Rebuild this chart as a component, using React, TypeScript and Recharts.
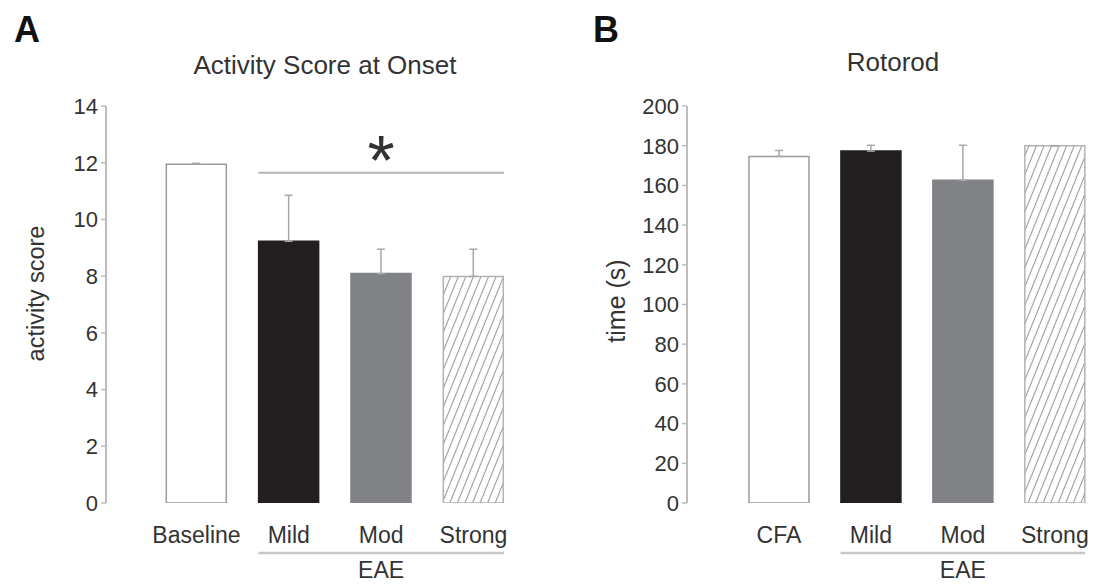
import { BarChart, Bar, XAxis, YAxis, Cell, ErrorBar, ReferenceLine } from 'recharts'

// Panel A - activity score at onset
const activityCategories = ['Baseline', 'Mild', 'Mod', 'Strong']
const activityValues = [11.95, 9.23, 8.09, 7.99]
const activitySem = [0.03, 1.62, 0.86, 0.96]
const activityTicks = [0, 2, 4, 6, 8, 10, 12, 14]
const activitySignificance = 11.65

// Panel B - rotorod
const rotorodCategories = ['CFA', 'Mild', 'Mod', 'Strong']
const rotorodValues = [174.6, 177.3, 162.6, 180]
const rotorodSem = [3.0, 2.9, 17.6, 0]
const rotorodTicks = [0, 20, 40, 60, 80, 100, 120, 140, 160, 180, 200]

const eaeGroup = ['Mild', 'Strong']

const FONT = '"Liberation Sans", Arial, Helvetica, sans-serif'
const AXIS = '#bdbdbd'
const TEXT = '#333333'
const BAR_HALF = 0.33 // half bar width, in category units

const buildRows = (values: number[], sem: number[]) =>
  values.map((v, i) => ({ pos: i, value: v, err: [0, sem[i]] }))

interface PanelProps {
  hatchId: string
  categories: string[]
  values: number[]
  sem: number[]
  yDomain: [number, number]
  yTicks: number[]
  xDomain: [number, number]
  yAxisWidth: number
  marginRight: number
  underlineY: number
  significanceY?: number
}

function Panel({
  hatchId,
  categories,
  values,
  sem,
  yDomain,
  yTicks,
  xDomain,
  yAxisWidth,
  marginRight,
  underlineY,
  significanceY
}: PanelProps) {
  const rows = buildRows(values, sem)
  const fills = ['#ffffff', '#231f20', '#808285', `url(#${hatchId})`]
  const strokes = ['#9a9a9a', '#231f20', '#808285', '#b3b3b3']
  const eaeStart = categories.indexOf(eaeGroup[0]) - BAR_HALF
  const eaeEnd = categories.indexOf(eaeGroup[1]) + BAR_HALF

  return (
    <BarChart
      width={548}
      height={585}
      data={rows}
      barSize={60}
      margin={{ top: 106, right: marginRight, bottom: 0, left: 0 }}
    >
      <defs>
        <pattern
          id={hatchId}
          patternUnits="userSpaceOnUse"
          width={7}
          height={7}
          patternTransform="rotate(22)"
        >
          <rect width={7} height={7} fill="#ffffff" />
          <line x1={3.5} y1={0} x2={3.5} y2={7} stroke="#9a9a9a" strokeWidth={1.1} />
        </pattern>
      </defs>
      <XAxis
        dataKey="pos"
        type="number"
        domain={xDomain}
        allowDataOverflow
        ticks={[0, 1, 2, 3]}
        interval={0}
        tickFormatter={(v) => categories[v]}
        axisLine={false}
        tickLine={false}
        tickSize={0}
        tickMargin={24}
        height={82}
        tick={{ fill: TEXT, fontSize: 23 }}
      />
      <YAxis
        domain={yDomain}
        allowDataOverflow
        ticks={yTicks}
        interval={0}
        width={yAxisWidth}
        stroke={AXIS}
        axisLine={{ stroke: AXIS, strokeWidth: 2 }}
        tickLine={{ stroke: AXIS, strokeWidth: 1.5 }}
        tickSize={5}
        tickMargin={3}
        tick={{ fill: TEXT, fontSize: 22 }}
      />
      <Bar dataKey="value" isAnimationActive={false}>
        {rows.map((r, i) => (
          <Cell key={r.pos} fill={fills[i]} stroke={strokes[i]} strokeWidth={1.5} />
        ))}
        <ErrorBar
          dataKey="err"
          width={4}
          stroke="#a8a8a8"
          strokeWidth={1.5}
          isAnimationActive={false}
        />
      </Bar>
      {significanceY !== undefined && (
        <ReferenceLine
          segment={[
            { x: eaeStart, y: significanceY },
            { x: eaeEnd, y: significanceY }
          ]}
          stroke="#b5b5b5"
          strokeWidth={2}
          ifOverflow="visible"
          label={{ value: '*', position: 'top', offset: -12, fill: '#333', fontSize: 70 }}
        />
      )}
      <ReferenceLine
        segment={[
          { x: eaeStart, y: underlineY },
          { x: eaeEnd, y: underlineY }
        ]}
        stroke="#c8c8c8"
        strokeWidth={2.5}
        ifOverflow="visible"
        label={{ value: 'EAE', position: 'bottom', offset: 9, fill: TEXT, fontSize: 23 }}
      />
    </BarChart>
  )
}

export default function App() {
  return (
    <div
      style={{
        position: 'absolute',
        left: 0,
        top: 0,
        width: 1096,
        height: 585,
        background: '#ffffff',
        fontFamily: FONT
      }}
    >
      <div style={{ position: 'absolute', left: 0, top: 0 }}>
        <Panel
          hatchId="hatchA"
          categories={activityCategories}
          values={activityValues}
          sem={activitySem}
          yDomain={[0, 14]}
          yTicks={activityTicks}
          xDomain={[-0.98, 3.45]}
          yAxisWidth={106}
          marginRight={33}
          underlineY={-1.76}
          significanceY={activitySignificance}
        />
      </div>
      <div style={{ position: 'absolute', left: 548, top: 0 }}>
        <Panel
          hatchId="hatchB"
          categories={rotorodCategories}
          values={rotorodValues}
          sem={rotorodSem}
          yDomain={[0, 200]}
          yTicks={rotorodTicks}
          xDomain={[-1, 3.35]}
          yAxisWidth={139}
          marginRight={9}
          underlineY={-25.2}
        />
      </div>
      <svg
        width={1096}
        height={585}
        style={{ position: 'absolute', left: 0, top: 0, pointerEvents: 'none' }}
      >
        <text x={14} y={42} fontSize={36} fontWeight="bold" fill="#111">A</text>
        <text x={593} y={42} fontSize={36} fontWeight="bold" fill="#111">B</text>
        <text x={325} y={73.5} fontSize={26} fill={TEXT} textAnchor="middle">
          Activity Score at Onset
        </text>
        <text x={893} y={71} fontSize={26} fill={TEXT} textAnchor="middle">
          Rotorod
        </text>
        <text
          x={44}
          y={293.5}
          fontSize={23.5}
          fill={TEXT}
          textAnchor="middle"
          transform="rotate(-90, 44, 293.5)"
        >
          activity score
        </text>
        <text
          x={624.5}
          y={301}
          fontSize={25}
          fill={TEXT}
          textAnchor="middle"
          transform="rotate(-90, 624.5, 301)"
        >
          time (s)
        </text>
      </svg>
    </div>
  )
}
